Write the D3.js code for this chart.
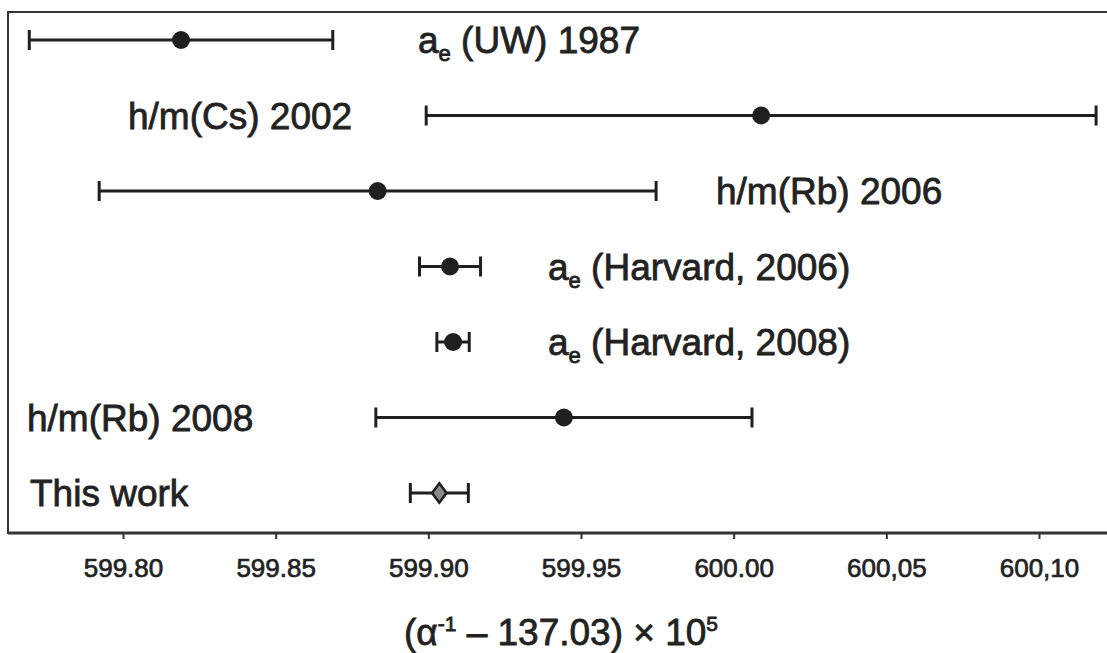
<!DOCTYPE html>
<html>
<head>
  <title>Fine-structure constant comparison</title>
  <style>
    body { margin: 0; background: white; }
    svg { display: block; font-family: "Liberation Sans", Arial, Helvetica, sans-serif; }
  </style>
</head>
<body>
  <svg id="chart" width="1107" height="653"></svg>

  <script src="https://d3js.org/d3.v7.min.js"></script>
  <script>
    // measurements, top to bottom: name, sub-part, value, uncertainty
    const labelMain = ["a", "h/m(Cs) 2002", "h/m(Rb) 2006", "a", "a", "h/m(Rb) 2008", "This work"];
    const labelRest = [" (UW) 1987", "", "", " (Harvard, 2006)", " (Harvard, 2008)", "", ""];
    const hasSub = [true, false, false, true, true, false, false];
    const values = [599.819, 600.009, 599.8834, 599.9071, 599.9081, 599.9444, 599.9036];
    const errors = [0.0497, 0.1097, 0.0912, 0.0100, 0.0053, 0.0616, 0.0095];
    const tickValues = [599.80, 599.85, 599.90, 599.95, 600.00, 600.05, 600.10];
    const tickLabels = ["599.80", "599.85", "599.90", "599.95", "600.00", "600,05", "600,10"];

    // where each label starts (pixels), layout only
    const labelX = [418, 128, 716, 548, 548, 27, 30];

    const width = 1107, height = 653;
    const ink = "#1f1f1f";
    const svg = d3.select("#chart");

    const x = d3.scaleLinear()
      .domain([599.80, 600.10])
      .range([123, 1039]);
    const rows = d3.range(values.length);
    const y = d3.scalePoint()
      .domain(rows)
      .range([40, 493]);

    // frame (right side runs off the page)
    svg.append("rect")
      .attr("x", 8).attr("y", 12)
      .attr("width", 1200).attr("height", 521)
      .attr("fill", "none")
      .attr("stroke", "#333")
      .attr("stroke-width", 2);
    svg.append("line")
      .attr("x1", 8).attr("x2", width)
      .attr("y1", 533).attr("y2", 533)
      .attr("stroke", "#333").attr("stroke-width", 3);

    // x axis
    const axis = svg.append("g")
      .attr("transform", "translate(0,533)")
      .call(d3.axisBottom(x)
        .tickValues(tickValues)
        .tickFormat((d, i) => tickLabels[i])
        .tickSize(6)
        .tickPadding(20));
    axis.select(".domain").remove();
    axis.selectAll(".tick line").attr("stroke", "#333").attr("stroke-width", 2);
    axis.selectAll(".tick text")
      .attr("font-size", 26)
      .attr("font-family", "Liberation Sans, Arial, sans-serif")
      .attr("fill", "#222")
      .attr("stroke", "#222")
      .attr("stroke-width", 0.7);

    // error bars
    const g = svg.append("g");
    const bars = g.selectAll("g.bar")
      .data(rows)
      .enter().append("g")
      .attr("class", "bar");

    bars.append("line")
      .attr("x1", i => x(values[i] - errors[i]))
      .attr("x2", i => x(values[i] + errors[i]))
      .attr("y1", i => y(i)).attr("y2", i => y(i))
      .attr("stroke", ink).attr("stroke-width", 3);
    [-1, 1].forEach(s => {
      bars.append("line")
        .attr("x1", i => x(values[i] + s * errors[i]))
        .attr("x2", i => x(values[i] + s * errors[i]))
        .attr("y1", i => y(i) - 10).attr("y2", i => y(i) + 10)
        .attr("stroke", ink).attr("stroke-width", 3);
    });

    // markers: filled dots, grey diamond for this work
    const last = values.length - 1;
    bars.filter(i => i !== last).append("circle")
      .attr("cx", i => x(values[i]))
      .attr("cy", i => y(i))
      .attr("r", 9)
      .attr("fill", ink);
    bars.filter(i => i === last).append("path")
      .attr("d", d3.symbol(d3.symbolDiamond, 150)())
      .attr("transform", i => `translate(${x(values[i])},${y(i)}) scale(1.1,0.85)`)
      .attr("fill", "#8a8a8a")
      .attr("stroke", ink)
      .attr("stroke-width", 2.5);

    // labels
    const labels = svg.selectAll("text.lbl")
      .data(rows)
      .enter().append("text")
      .attr("class", "lbl")
      .attr("x", i => labelX[i])
      .attr("y", i => y(i) + 13)
      .attr("font-size", 37)
      .attr("fill", "#222")
      .attr("stroke", "#222")
      .attr("stroke-width", 0.8);
    labels.append("tspan").text(i => labelMain[i]);
    labels.filter(i => hasSub[i]).append("tspan")
      .attr("font-size", 22)
      .attr("dy", 8)
      .text("e");
    labels.filter(i => hasSub[i]).append("tspan")
      .attr("dy", -8)
      .text(i => labelRest[i]);

    // axis title
    const title = svg.append("text")
      .attr("x", 561)
      .attr("y", 645)
      .attr("text-anchor", "middle")
      .attr("font-size", 37)
      .attr("fill", "#222")
      .attr("stroke", "#222")
      .attr("stroke-width", 0.8);
    title.append("tspan").text("(\u03b1");
    title.append("tspan").attr("font-size", 21).attr("dy", -14).text("-1");
    title.append("tspan").attr("dy", 14).text(" \u2013 137.03) \u00d7 10");
    title.append("tspan").attr("font-size", 21).attr("dy", -14).text("5");
  </script>
</body>
</html>
